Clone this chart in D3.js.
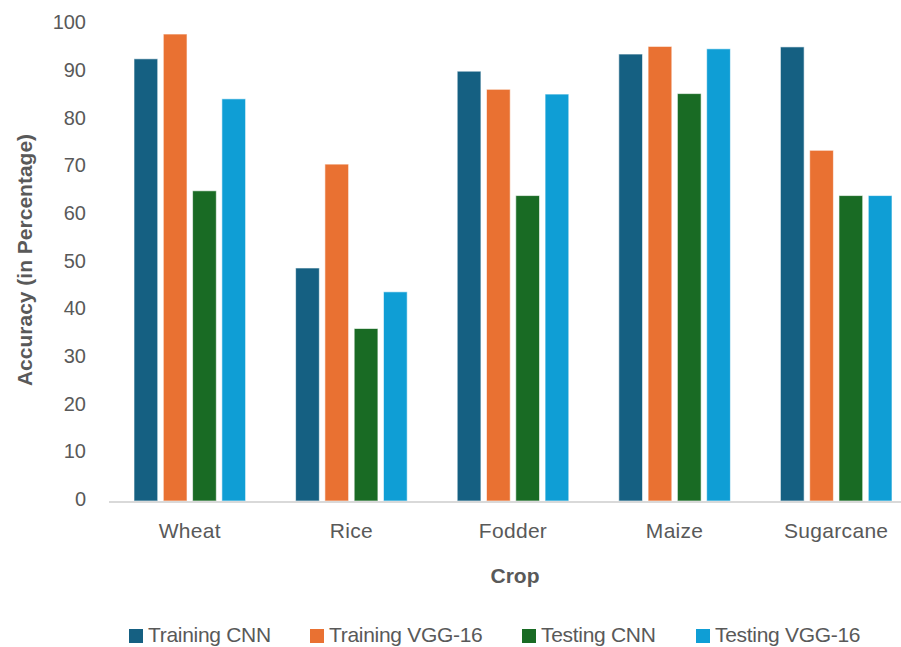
<!DOCTYPE html>
<html>
<head>
<meta charset="utf-8">
<script src="https://cdn.jsdelivr.net/npm/d3@7"></script>
<style>
  html, body { margin: 0; padding: 0; background: #ffffff; }
  svg { display: block; font-family: "Liberation Sans", Arial, sans-serif; }
</style>
</head>
<body>
<svg id="chart" width="901" height="647"></svg>
<script>
// Crop categories and model series
const crops = ["Wheat", "Rice", "Fodder", "Maize", "Sugarcane"];
const seriesNames = ["Training CNN", "Training VGG-16", "Testing CNN", "Testing VGG-16"];
const seriesColors = ["#156082", "#E97132", "#196B24", "#0F9ED5"];

// Accuracy (%) per crop, one array per series
const trainingCNN   = [92.8, 48.9, 90.2, 93.8, 95.3];
const trainingVGG16 = [98.0, 70.7, 86.4, 95.4, 73.6];
const testingCNN    = [65.1, 36.2, 64.1, 85.5, 64.1];
const testingVGG16  = [84.4, 43.9, 85.4, 94.9, 64.1];

const yTicks = [0, 10, 20, 30, 40, 50, 60, 70, 80, 90, 100];

const seriesValues = [trainingCNN, trainingVGG16, testingCNN, testingVGG16];
const rows = crops.map((c, i) => ({
  crop: c,
  values: seriesNames.map((s, j) => ({ series: s, value: seriesValues[j][i], color: seriesColors[j] }))
}));

const svg = d3.select("#chart");
const textColor = "#595959";

const margin = { left: 109, right: 917, top: 24.5, bottom: 501 };

const x0 = d3.scaleBand().domain(crops).range([margin.left, margin.right]).paddingInner(0).paddingOuter(0);
const x1 = d3.scaleBand().domain(seriesNames).range([25, x0.bandwidth() - 25]).paddingInner(0.19).paddingOuter(0);
const y = d3.scaleLinear().domain([0, 100]).range([margin.bottom, margin.top]);

// Bars
const groups = svg.append("g").selectAll("g")
  .data(rows).join("g")
  .attr("transform", d => `translate(${x0(d.crop)},0)`);

groups.selectAll("rect")
  .data(d => d.values).join("rect")
  .attr("x", d => x1(d.series))
  .attr("y", d => y(d.value))
  .attr("width", x1.bandwidth())
  .attr("height", d => y(0) - y(d.value))
  .attr("fill", d => d.color)
  .attr("stroke", "#ffffff")
  .attr("stroke-opacity", 0.6)
  .attr("stroke-width", 1);

// Baseline
svg.append("line")
  .attr("x1", margin.left).attr("x2", 901)
  .attr("y1", y(0) + 1).attr("y2", y(0) + 1)
  .attr("stroke", "#d9d9d9").attr("stroke-width", 2);

// Y axis tick labels
const yAxis = d3.axisLeft(y).tickValues(yTicks).tickSize(0).tickPadding(0);
const yg = svg.append("g").attr("transform", "translate(86,-2)").call(yAxis);
yg.select(".domain").remove();
yg.selectAll("text")
  .attr("fill", textColor)
  .style("font-size", "20px")
  .style("font-family", "\"Liberation Sans\", Arial, sans-serif");

// X axis category labels
const xAxis = d3.axisBottom(x0).tickSize(0).tickPadding(0);
const xg = svg.append("g").attr("transform", "translate(0,523)").call(xAxis);
xg.select(".domain").remove();
xg.selectAll("text")
  .attr("fill", textColor)
  .attr("dy", "0.71em")
  .style("font-size", "21px")
  .style("letter-spacing", "0.3px")
  .style("font-family", "\"Liberation Sans\", Arial, sans-serif");

// Axis titles
svg.append("text")
  .attr("x", 515).attr("y", 583)
  .attr("text-anchor", "middle")
  .attr("fill", textColor)
  .style("font-size", "21px").style("font-weight", "bold")
  .text("Crop");

svg.append("text")
  .attr("transform", "translate(32,260) rotate(-90)")
  .attr("text-anchor", "middle")
  .attr("fill", textColor)
  .style("font-size", "21px").style("font-weight", "bold")
  .text("Accuracy (in Percentage)");

// Legend, one entry per series
const legendX = [129, 310, 522, 696];
const legend = svg.append("g");
seriesNames.forEach((name, i) => {
  const item = legend.append("g").attr("transform", `translate(${legendX[i]},0)`);
  item.append("rect")
    .attr("x", 0).attr("y", 629).attr("width", 14).attr("height", 14)
    .attr("fill", seriesColors[i]);
  item.append("text")
    .attr("x", 19).attr("y", 642)
    .attr("fill", textColor)
    .style("font-size", "21px")
    .style("letter-spacing", "-0.3px")
    .text(name);
});
</script>
</body>
</html>
